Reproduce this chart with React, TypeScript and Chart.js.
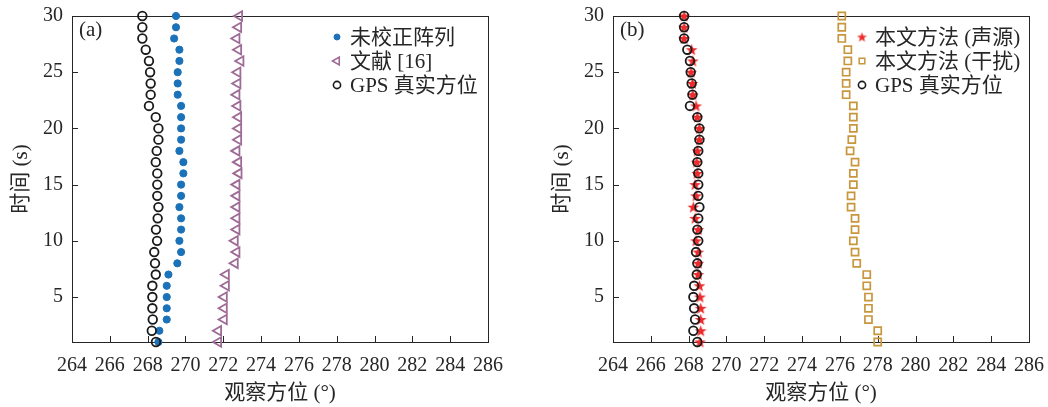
import React, { useEffect, useRef } from 'react';
import { Chart, registerables } from 'chart.js';
import { drawPoint } from 'chart.js/helpers';

Chart.register(...registerables);

// ---- data ----
const TIME = [1, 2, 3, 4, 5, 6, 7, 8, 9, 10, 11, 12, 13, 14, 15, 16, 17, 18, 19, 20, 21, 22, 23, 24, 25, 26, 27, 28, 29, 30];
const X_TICKS = [264, 266, 268, 270, 272, 274, 276, 278, 280, 282, 284, 286];
const Y_TICKS = [5, 10, 15, 20, 25, 30];

// panel (a)
const A_UNCORRECTED = [268.57, 268.62, 269.01, 269.01, 269.01, 269.01, 269.10, 269.57, 269.77, 269.68, 269.77, 269.77, 269.68, 269.77, 269.77, 269.89, 269.89, 269.68, 269.77, 269.77, 269.77, 269.77, 269.59, 269.59, 269.59, 269.68, 269.68, 269.40, 269.50, 269.50];
const A_REF16 = [271.74, 271.74, 272.04, 272.04, 272.04, 272.15, 272.15, 272.62, 272.71, 272.62, 272.71, 272.71, 272.71, 272.71, 272.71, 272.82, 272.80, 272.71, 272.80, 272.80, 272.80, 272.76, 272.71, 272.76, 272.76, 272.92, 272.80, 272.71, 272.80, 272.85];
const A_GPS = [268.44, 268.22, 268.27, 268.25, 268.25, 268.25, 268.43, 268.39, 268.35, 268.50, 268.44, 268.53, 268.57, 268.51, 268.51, 268.51, 268.43, 268.48, 268.57, 268.57, 268.43, 268.07, 268.16, 268.16, 268.13, 268.07, 267.90, 267.72, 267.72, 267.72];

// panel (b)
const B_SOURCE = [268.60, 268.64, 268.64, 268.64, 268.60, 268.57, 268.51, 268.51, 268.51, 268.39, 268.51, 268.34, 268.25, 268.39, 268.34, 268.45, 268.43, 268.46, 268.57, 268.57, 268.46, 268.39, 268.22, 268.20, 268.13, 268.22, 268.16, 267.76, 267.76, 267.76];
const B_JAMMER = [278.00, 278.00, 277.51, 277.51, 277.51, 277.42, 277.42, 276.89, 276.80, 276.71, 276.80, 276.80, 276.59, 276.59, 276.71, 276.71, 276.80, 276.54, 276.63, 276.71, 276.71, 276.71, 276.33, 276.33, 276.33, 276.42, 276.42, 276.10, 276.10, 276.10];
const B_GPS = [268.46, 268.25, 268.34, 268.29, 268.25, 268.29, 268.43, 268.46, 268.39, 268.51, 268.46, 268.51, 268.57, 268.51, 268.51, 268.51, 268.46, 268.51, 268.57, 268.57, 268.46, 268.07, 268.20, 268.16, 268.11, 268.07, 267.93, 267.76, 267.76, 267.76];

const LABELS_A = ['未校正阵列', '文献 [16]', 'GPS 真实方位'];
const LABELS_B = ['本文方法 (声源)', '本文方法 (干扰)', 'GPS 真实方位'];

// ---- styles ----
const FONT = '"Liberation Serif", "Times New Roman", "Noto Sans CJK SC", serif';
const TEXT = '#262626';
const AXIS = '#262626';
const BLUE = '#1c72b8';
const MAUVE = '#9e6b96';
const BLACK = '#1a1a1a';
const RED = '#ee2a2a';
const GOLD = '#c8963c';

function makeStar(size: number, color: string) {
  const c = document.createElement('canvas');
  c.width = size;
  c.height = size;
  const ctx = c.getContext('2d')!;
  const cx = size / 2, cy = size / 2 + size * 0.04;
  const R = size / 2 - 0.3, r = R * 0.42;
  ctx.beginPath();
  for (let i = 0; i < 10; i++) {
    const a = -Math.PI / 2 + (i * Math.PI) / 5;
    const rad = i % 2 === 0 ? R : r;
    ctx.lineTo(cx + rad * Math.cos(a), cy + rad * Math.sin(a));
  }
  ctx.closePath();
  ctx.fillStyle = color;
  ctx.fill();
  return c;
}

type LegendEntry = { label: string; ps: any; radius: number; rotation: number; bw: number; fill: string; stroke: string };

function makeConfig(datasets: any[], legend: LegendEntry[], panel: string, padRight: number, legendOffset: number) {
  const deco = {
    id: 'deco',
    beforeDatasetsDraw(chart: any) {
      const { ctx, chartArea: a, scales } = chart;
      ctx.save();
      ctx.strokeStyle = AXIS;
      ctx.lineWidth = 1;
      ctx.strokeRect(Math.round(a.left) + 0.5, Math.round(a.top) + 0.5, Math.round(a.right - a.left), Math.round(a.bottom - a.top));
      ctx.beginPath();
      for (const v of X_TICKS) {
        const px = Math.round(scales.x.getPixelForValue(v)) + 0.5;
        ctx.moveTo(px, a.bottom);
        ctx.lineTo(px, a.bottom - 6);
      }
      for (const v of Y_TICKS) {
        const py = Math.round(scales.y.getPixelForValue(v)) + 0.5;
        ctx.moveTo(a.left, py);
        ctx.lineTo(a.left + 6, py);
      }
      ctx.stroke();
      ctx.restore();
    },
    afterDraw(chart: any) {
      const { ctx, chartArea: a } = chart;
      ctx.save();
      ctx.fillStyle = TEXT;
      ctx.font = `21px ${FONT}`;
      ctx.textAlign = 'left';
      ctx.textBaseline = 'middle';
      ctx.fillText(panel, a.left + 7, a.top + 14);
      const mx = a.right - legendOffset;
      legend.forEach((e, i) => {
        const y = a.top + 21 + i * 24;
        ctx.save();
        ctx.fillStyle = e.fill;
        ctx.strokeStyle = e.stroke;
        ctx.lineWidth = e.bw;
        drawPoint(ctx, { pointStyle: e.ps, radius: e.radius, rotation: e.rotation, borderWidth: e.bw } as any, mx, y);
        ctx.restore();
        ctx.fillStyle = TEXT;
        ctx.font = `21px ${FONT}`;
        ctx.fillText(e.label, mx + 13, y + 1);
      });
      ctx.restore();
    },
  };
  return {
    type: 'scatter',
    data: { datasets },
    options: {
      animation: false,
      responsive: false,
      devicePixelRatio: 1,
      events: [],
      layout: { padding: { left: 0, right: padRight, top: 16, bottom: 0 } },
      plugins: { legend: { display: false }, tooltip: { enabled: false } },
      scales: {
        x: {
          type: 'linear',
          min: 264,
          max: 286,
          afterBuildTicks: (s: any) => { s.ticks = X_TICKS.map((v) => ({ value: v })); },
          afterFit: (s: any) => { s.height = 65; s.paddingLeft = 0; s.paddingRight = 0; },
          grid: { display: false, drawTicks: false },
          border: { display: false },
          ticks: { padding: 12, color: TEXT, font: { family: FONT, size: 20 }, autoSkip: false, maxRotation: 0 },
          title: { display: true, text: '观察方位 (°)', color: TEXT, font: { family: FONT, size: 21 }, padding: { top: 0, bottom: 1 } },
        },
        y: {
          type: 'linear',
          min: 1,
          max: 30,
          afterBuildTicks: (s: any) => { s.ticks = Y_TICKS.map((v) => ({ value: v })); },
          afterFit: (s: any) => { s.width = 72; s.paddingTop = 0; s.paddingBottom = 0; },
          grid: { display: false, drawTicks: false },
          border: { display: false },
          ticks: { padding: 9, color: TEXT, font: { family: FONT, size: 20 }, autoSkip: false },
          title: { display: true, text: '时间 (s)', color: TEXT, font: { family: FONT, size: 21 }, padding: { top: 9, bottom: 0 } },
        },
      },
    },
    plugins: [deco],
  } as any;
}

const pts = (xs: number[]) => xs.map((x, i) => ({ x, y: TIME[i] }));

function Panel({ which }: { which: 'a' | 'b' }) {
  const ref = useRef<HTMLCanvasElement>(null);
  useEffect(() => {
    let cfg: any;
    if (which === 'a') {
      const ds = [
        { label: LABELS_A[2], data: pts(A_GPS), pointStyle: 'circle', pointRadius: 4.3, pointBorderWidth: 1.8, borderColor: BLACK, backgroundColor: 'rgba(0,0,0,0)', clip: false, order: 0 },
        { label: LABELS_A[0], data: pts(A_UNCORRECTED), pointStyle: 'circle', pointRadius: 3.6, pointBorderWidth: 1, borderColor: BLUE, backgroundColor: BLUE, clip: false, order: 1 },
        { label: LABELS_A[1], data: pts(A_REF16), pointStyle: 'triangle', rotation: -90, pointRotation: -90, pointRadius: 5.5, pointBorderWidth: 1.8, borderColor: MAUVE, backgroundColor: 'rgba(0,0,0,0)', clip: false, order: 2 },
      ];
      const legend: LegendEntry[] = [
        { label: LABELS_A[0], ps: 'circle', radius: 3, rotation: 0, bw: 1, fill: BLUE, stroke: BLUE },
        { label: LABELS_A[1], ps: 'triangle', radius: 4.5, rotation: -90, bw: 1.6, fill: 'rgba(0,0,0,0)', stroke: MAUVE },
        { label: LABELS_A[2], ps: 'circle', radius: 3.6, rotation: 0, bw: 1.6, fill: 'rgba(0,0,0,0)', stroke: BLACK },
      ];
      cfg = makeConfig(ds, legend, '(a)', 42, 151);
    } else {
      const star = makeStar(13, RED);
      const starSmall = makeStar(11, RED);
      const ds = [
        { label: LABELS_B[2], data: pts(B_GPS), pointStyle: 'circle', pointRadius: 4.3, pointBorderWidth: 1.8, borderColor: BLACK, backgroundColor: 'rgba(0,0,0,0)', clip: false, order: 0 },
        { label: LABELS_B[0], data: pts(B_SOURCE), pointStyle: star, pointRadius: 6, borderColor: RED, backgroundColor: RED, clip: false, order: 2 },
        { label: LABELS_B[1], data: pts(B_JAMMER), pointStyle: 'rect', pointRadius: 5, pointBorderWidth: 1.7, borderColor: GOLD, backgroundColor: 'rgba(0,0,0,0)', clip: false, order: 1 },
      ];
      const legend: LegendEntry[] = [
        { label: LABELS_B[0], ps: starSmall, radius: 5, rotation: 0, bw: 0, fill: RED, stroke: RED },
        { label: LABELS_B[1], ps: 'rect', radius: 4, rotation: 0, bw: 1.5, fill: 'rgba(0,0,0,0)', stroke: GOLD },
        { label: LABELS_B[2], ps: 'circle', radius: 3.6, rotation: 0, bw: 1.6, fill: 'rgba(0,0,0,0)', stroke: BLACK },
      ];
      cfg = makeConfig(ds, legend, '(b)', 19, 167);
    }
    const chart = new Chart(ref.current!, cfg);
    return () => chart.destroy();
  }, [which]);
  const w = which === 'a' ? 530 : 507;
  const left = which === 'a' ? 0 : 541;
  return (
    <canvas ref={ref} width={w} height={407} style={{ position: 'absolute', left, top: 0, width: w, height: 407 }} />
  );
}

export default function App() {
  return (
    <div style={{ position: 'absolute', left: 0, top: 0, width: 1048, height: 407, background: '#fff', overflow: 'hidden' }}>
      <Panel which="a" />
      <Panel which="b" />
    </div>
  );
}
